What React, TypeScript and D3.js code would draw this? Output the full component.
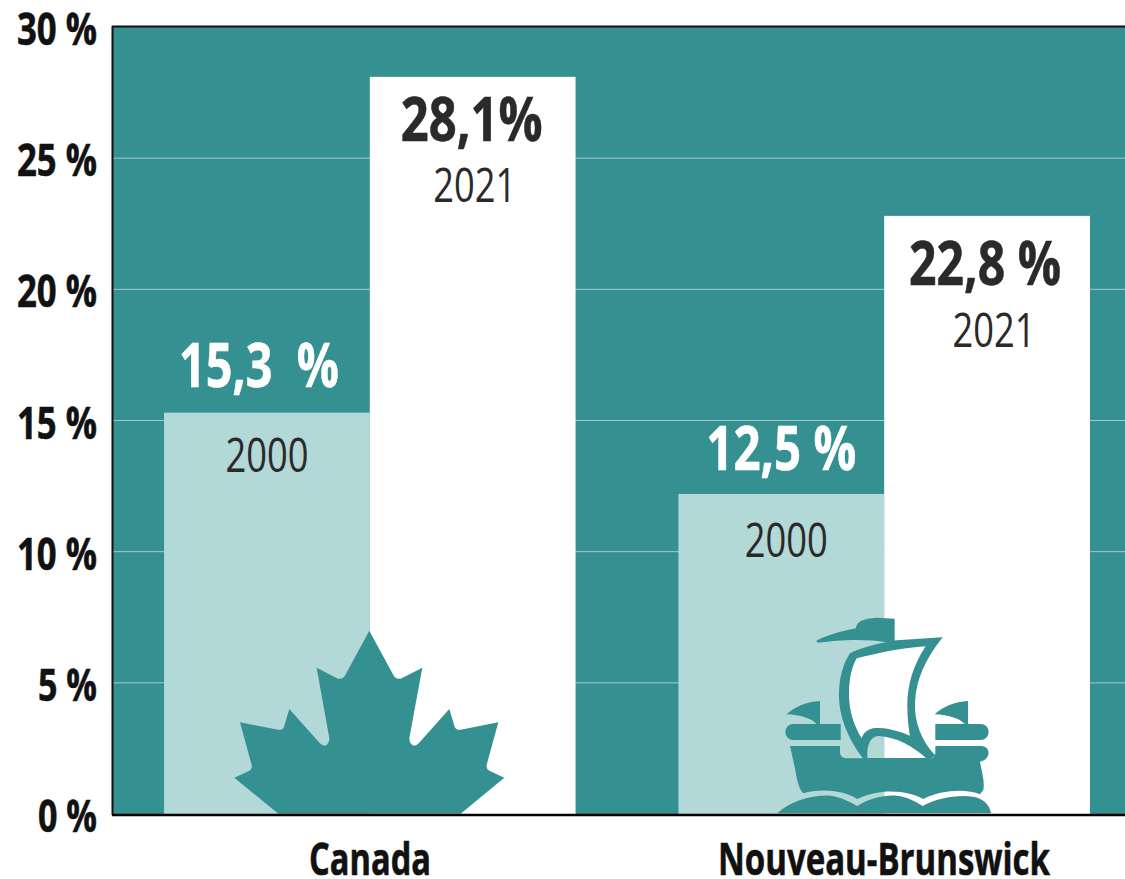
import React from "react";
import * as d3 from "d3";

const categories = ["Canada", "Nouveau-Brunswick"];
const years = ["2000", "2021"];
const barValues2000 = [15.3, 12.2];
const barValues2021 = [28.1, 22.8];
const valueLabels2000 = ["15,3  %", "12,5 %"];
const valueLabels2021 = ["28,1%", "22,8 %"];
const yTicks = [0, 5, 10, 15, 20, 25, 30];

const W = 1125, H = 879;
const TEAL = "#349091", LIGHT = "#b2d8d8", DARK = "#2b2a29";
const FONT = "'Open Sans', 'Noto Sans', sans-serif";

const y = d3.scaleLinear().domain([0, 30]).range([814, 27]);
const x = d3.scaleBand<string>().domain(categories).range([112.6, 1141.4]).paddingInner(0.2).paddingOuter(0.1);
const xYear = d3.scaleBand<string>().domain(years).range([0, x.bandwidth()]);

const leaf = "M448,62 L520,195 Q528,209 542,206 L607,173 L568,385 Q568,404 582,407 Q590,407 597,399 L688,297 L704,350 Q708,361 722,359 L835,337 L800,465 Q798,476 808,482 L853,503 L722,611 L175,611 L43,503 L88,482 Q98,476 95,465 L60,337 L175,359 Q189,361 192,350 L208,297 L299,399 Q306,407 315,407 Q328,404 328,385 L290,173 L354,206 Q368,209 376,195 Z";
const shipSailFill = "M260,160 C320,145 400,128 467,124 C430,180 412,240 412,300 C412,335 416,370 420,392 C380,375 340,365 310,370 C290,375 280,385 275,400 C250,360 235,310 237,260 C238,220 245,185 260,160 Z";
const shipSail = `M240,145 C280,125 340,112 380,106 L518,97 C465,165 440,220 435,290 C432,350 455,410 497,452 L480,462 L280,462 C240,410 205,340 207,265 C208,215 220,175 240,145 Z ${shipSailFill} M292,459 C290,420 300,395 325,393 C380,395 430,425 468,459 Z`;
const shipFlag = "M138,108 C170,90 220,78 258,70 C258,50 280,40 320,38 L374,41 L374,108 L350,112 C290,100 200,105 145,113 Z";
const shipHull = "M60,423 L210,423 L210,445 Q212,460 232,460 L484,460 Q495,458 496,445 L496,423 L635,423 Q656,425 656,445 Q654,465 630,470 C635,500 645,530 640,555 L630,568 C590,550 510,555 460,582 C420,560 340,545 262,582 C220,555 150,550 100,565 C85,550 80,520 75,490 Z";
const shipWaves = "M22,625 C60,590 120,570 180,572 C210,575 240,590 262,603 C300,580 340,570 380,572 C410,575 440,590 458,603 C500,580 560,568 610,575 C640,580 660,600 663,625 Z";
const shipBarL = "M70,357 L212,357 L212,405 L70,405 A24,24 0 0 1 70,357 Z";
const shipBarR = "M496,357 L632,357 A24,24 0 0 1 632,405 L496,405 Z";
const shipPennantL = "M50,328 C75,305 110,290 150,288 L150,357 L140,357 C125,340 90,330 50,328 Z";
const shipPennantR = "M494,328 C519,305 554,290 594,288 L594,357 L584,357 C569,340 534,330 494,328 Z";

function T({ s, x, y, w, size, weight = 700, fill = "#111", anchor = "middle" }: any) {
  return (
    <text x={x} y={y} textAnchor={anchor} textLength={w} lengthAdjust="spacingAndGlyphs"
      fontFamily={FONT} fontSize={size} fontWeight={weight} fill={fill}
      stroke={weight === 700 ? fill : "none"} strokeWidth={weight === 700 ? 0.6 : 0}
      style={{ whiteSpace: "pre" }}>{s}</text>
  );
}

export default function App() {
  const bars = categories.flatMap((c, i) => [
    { c, yr: years[0], v: barValues2000[i], fill: LIGHT },
    { c, yr: years[1], v: barValues2021[i], fill: "#ffffff" },
  ]);
  const bx = (c: string, yr: string) => (x(c) as number) + (xYear(yr) as number);
  const cx = (c: string, yr: string) => bx(c, yr) + xYear.bandwidth() / 2;
  return (
    <svg width={W} height={H} style={{ position: "absolute", left: 0, top: 0, background: "#fff" }}>
      <rect x={112} y={26} width={W - 112} height={788} fill={TEAL} />
      {yTicks.slice(1, -1).map((t) => (
        <line key={t} x1={112} x2={W} y1={y(t)} y2={y(t)} stroke="#a5c9c9" strokeWidth={1} />
      ))}
      {bars.map((b) => (
        <rect key={b.c + b.yr} x={bx(b.c, b.yr)} y={y(b.v)} width={xYear.bandwidth()} height={y(0) - y(b.v)} fill={b.fill} />
      ))}
      <path d={leaf} fill={TEAL} transform="translate(220,610) scale(0.3333)" />
      <g transform="translate(770,605) scale(0.3333)" fill={TEAL}>
        <path d={shipSailFill} fill="#fff" />
        <path d={shipSail} fillRule="evenodd" />
        <path d={shipFlag} />
        <path d={shipHull} />
        <path d={shipWaves} />
        <path d={shipBarL} />
        <path d={shipBarR} />
        <path d={shipPennantL} />
        <path d={shipPennantR} />
      </g>
      <line x1={112} x2={W} y1={26.5} y2={26.5} stroke="#111" strokeWidth={2} />
      <line x1={112.5} x2={112.5} y1={26} y2={815} stroke="#111" strokeWidth={2} />
      <line x1={112} x2={W} y1={815} y2={815} stroke="#000" strokeWidth={2.5} />
      {yTicks.map((t) => (
        <T key={t} s={`${t} %`} x={97} y={y(t) + 18} w={t < 10 ? 59 : 80} size={45} anchor="end" />
      ))}
      <T s={categories[0]} x={370} y={875} w={122} size={44} />
      <T s={categories[1]} x={884} y={875} w={332} size={44} />
      <T s={valueLabels2000[0]} x={cx(categories[0], years[0]) - 8} y={y(barValues2000[0]) - 26} w={160} size={60} fill="#fff" />
      <T s={years[0]} x={cx(categories[0], years[0])} y={y(barValues2000[0]) + 59} w={83} size={48} weight={400} fill={DARK} />
      <T s={valueLabels2021[0]} x={cx(categories[0], years[1]) - 1} y={y(barValues2021[0]) + 64} w={142} size={60} fill={DARK} />
      <T s={years[1]} x={cx(categories[0], years[1]) + 2} y={y(barValues2021[0]) + 125} w={83} size={48} weight={400} fill={DARK} />
      <T s={valueLabels2000[1]} x={cx(categories[1], years[0])} y={y(barValues2000[1]) - 24} w={150} size={60} fill="#fff" />
      <T s={years[0]} x={cx(categories[1], years[0]) + 5} y={y(barValues2000[1]) + 63} w={83} size={48} weight={400} fill={DARK} />
      <T s={valueLabels2021[1]} x={cx(categories[1], years[1]) - 2} y={y(barValues2021[1]) + 69} w={152} size={60} fill={DARK} />
      <T s={years[1]} x={cx(categories[1], years[1]) + 7} y={y(barValues2021[1]) + 131} w={83} size={48} weight={400} fill={DARK} />
    </svg>
  );
}
